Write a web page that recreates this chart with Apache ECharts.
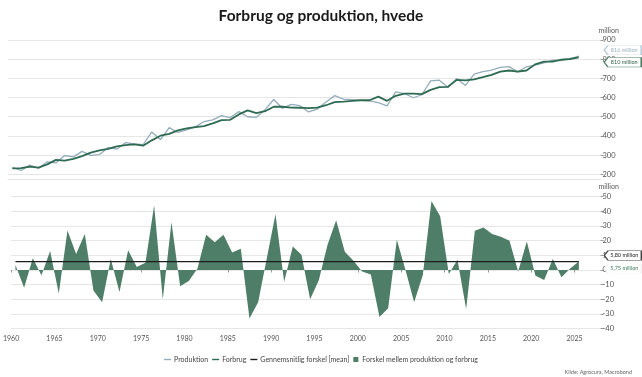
<!DOCTYPE html>
<html>
<head>
<meta charset="utf-8">
<script src="https://cdn.jsdelivr.net/npm/echarts@6/dist/echarts.min.js"></script>
<style>
html, body { margin: 0; padding: 0; background: #fff; }
#main { width: 642px; height: 377px; }
</style>
</head>
<body>
<div id="main"></div>
<script>
// høstår 1960/61 - 2025/26
var years = [1960, 1961, 1962, 1963, 1964, 1965, 1966, 1967, 1968, 1969,
    1970, 1971, 1972, 1973, 1974, 1975, 1976, 1977, 1978, 1979,
    1980, 1981, 1982, 1983, 1984, 1985, 1986, 1987, 1988, 1989,
    1990, 1991, 1992, 1993, 1994, 1995, 1996, 1997, 1998, 1999,
    2000, 2001, 2002, 2003, 2004, 2005, 2006, 2007, 2008, 2009,
    2010, 2011, 2012, 2013, 2014, 2015, 2016, 2017, 2018, 2019,
    2020, 2021, 2022, 2023, 2024, 2025];

// million ton
var produktion = [234.5, 220, 248, 231.5, 265, 259, 298, 291, 319.5, 299,
    303, 339.5, 331, 365.5, 358, 354, 421, 381, 443.5, 418,
    431.5, 447, 475, 484, 506, 496, 526.5, 500, 497, 537,
    590, 544, 564, 557.5, 525, 540, 577, 610, 591.5, 589.4,
    585, 583, 573, 557, 629.7, 621, 599, 614.6, 687, 690.6,
    653.3, 699, 663.4, 721.8, 735, 742.5, 757.7, 761, 734, 760.5,
    769.1, 780.2, 794.5, 793, 802, 815.75];

var forbrug = [231, 232, 240, 235, 252, 275, 271, 280, 295, 313,
    325, 332, 346, 352, 356, 349, 377, 401, 411, 429,
    439, 446, 451, 465, 482, 484, 512, 533, 519, 529,
    552, 552, 548, 547, 545, 547, 560, 576, 579, 583,
    586, 586, 605, 583, 609, 621, 621, 618, 640, 654,
    656, 692, 690, 695, 706, 718, 735, 741, 735, 741,
    773, 787, 787, 798, 801, 810];

var forskel = [3.5, -12, 8, -3.5, 13, -16, 27, 11, 24.5, -14,
    -22, 7.5, -15, 13.5, 2, 5, 44, -20, 32.5, -11,
    -7.5, 1, 24, 19, 24, 12, 14.5, -33, -22, 8,
    38, -8, 16, 10.5, -20, -7, 17, 34, 12.5, 6.4,
    -1, -3, -32, -26, 20.7, 0, -22, -3.4, 47, 36.6,
    -2.7, 7, -26.6, 26.8, 29, 24.5, 22.7, 20, -1, 19.5,
    -3.9, -6.8, 7.5, -5, 1, 5.75];

var gnsForskel = 5.8;

var font = 'Lato';
var gridColor = '#e6e6e6';
var tagPath = 'path://M0,5L4,0L40,0L40,10L4,10Z';
var lineIcon = 'path://M0,0H10V2H0Z';

function pairs(arr) {
    var res = [];
    for (var i = 0; i < arr.length; i++) {
        res.push([years[i] + 0.5, arr[i]]);
    }
    return res;
}

// mærkat ude til højre for sidste punkt
function tag(x, y, text, border, color, dy) {
    return {
        symbol: tagPath,
        symbolSize: [37, 9.5],
        symbolKeepAspect: false,
        silent: true,
        label: {
            show: true,
            position: 'inside',
            overflow: 'none',
            fontFamily: font,
            fontSize: 5.5,
            color: color,
            padding: [0, 0, 0, 3]
        },
        itemStyle: { color: '#fff', borderColor: border, borderWidth: 0.8 },
        data: [{ coord: [x, y], value: text, symbolOffset: [44, dy], label: { formatter: text } }]
    };
}

var lastX = years[years.length - 1] + 0.5;
var myChart = echarts.init(document.getElementById('main'));

var option = {
    backgroundColor: '#fff',
    animation: false,
    textStyle: { fontFamily: font },
    title: [{
        text: 'Forbrug og produktion, hvede',
        left: 'center',
        top: 3,
        textStyle: { fontFamily: font, fontWeight: 'bold', fontSize: 15.5, color: '#1a1a1a' }
    }, {
        text: 'Kilde: Agrocura, Macrobond',
        right: 5,
        top: 364,
        textStyle: { fontFamily: font, fontWeight: 'normal', fontSize: 5.5, color: '#666' }
    }],
    legend: {
        top: 351,
        left: 'center',
        itemWidth: 7,
        itemHeight: 5,
        itemGap: 4,
        textStyle: { fontFamily: font, fontSize: 7, color: '#444', padding: [0, 0, 0, -2] },
        data: [
            { name: 'Produktion', icon: lineIcon },
            { name: 'Forbrug', icon: lineIcon },
            { name: 'Gennemsnitlig forskel [mean]', icon: lineIcon },
            { name: 'Forskel mellem produktion og forbrug', icon: 'path://M0,0H10V10H0Z' }
        ]
    },
    grid: [
        { left: 8, right: 41.5, top: 40, height: 134.3 },
        { left: 8, right: 41.5, top: 196.7, height: 132 }
    ],
    xAxis: [{
        gridIndex: 0,
        type: 'value',
        min: 1960, max: 2028, interval: 5,
        offset: 5,
        axisLine: { show: true, lineStyle: { color: gridColor, width: 1 } },
        axisTick: { show: false },
        axisLabel: { show: false },
        splitLine: { show: false }
    }, {
        gridIndex: 1,
        type: 'value',
        min: 1960, max: 2028, interval: 5,
        offset: 3,
        axisLine: { show: false },
        axisTick: { show: true, length: 2.5, lineStyle: { color: '#999' } },
        axisLabel: {
            fontFamily: font, fontSize: 7, color: '#555', margin: 4,
            showMaxLabel: false,
            formatter: function(v) { return v; }
        },
        splitLine: { show: false }
    }],
    yAxis: [{
        gridIndex: 0,
        type: 'value',
        position: 'right',
        min: 200, max: 900, interval: 100,
        name: 'million',
        nameGap: 6,
        nameTextStyle: { fontFamily: font, fontSize: 7, color: '#555', align: 'left', padding: [0, 0, 0, -2] },
        axisLine: { show: false },
        axisTick: { show: true, length: 3, lineStyle: { color: '#999' } },
        axisLabel: { fontFamily: font, fontSize: 7.5, color: '#555', margin: 2 },
        splitLine: { lineStyle: { color: gridColor, width: 1.2 } }
    }, {
        gridIndex: 1,
        type: 'value',
        position: 'right',
        min: -40, max: 50, interval: 10,
        name: 'million',
        nameGap: 6,
        nameTextStyle: { fontFamily: font, fontSize: 7, color: '#555', align: 'left', padding: [0, 0, 0, -2] },
        axisLine: { show: false },
        axisTick: { show: true, length: 3, lineStyle: { color: '#999' } },
        axisLabel: { fontFamily: font, fontSize: 7.5, color: '#555', margin: 2 },
        splitLine: { lineStyle: { color: gridColor, width: 1.2 } }
    }],
    series: [{
        name: 'Produktion',
        type: 'line',
        xAxisIndex: 0, yAxisIndex: 0,
        showSymbol: false, symbol: 'none',
        clip: false,
        z: 3,
        color: '#94adbc',
        lineStyle: { color: '#94adbc', width: 1.3 },
        data: pairs(produktion),
        markPoint: tag(lastX, produktion[produktion.length - 1], '816 million', '#b9cbd5', '#9ab1bf', -6)
    }, {
        name: 'Forbrug',
        type: 'line',
        xAxisIndex: 0, yAxisIndex: 0,
        showSymbol: false, symbol: 'none',
        clip: false,
        z: 4,
        color: '#2f6a52',
        lineStyle: { color: '#2f6a52', width: 1.8 },
        data: pairs(forbrug),
        markPoint: tag(lastX, forbrug[forbrug.length - 1], '810 million', '#4e7d68', '#2f5f4a', 5)
    }, {
        name: 'Gennemsnitlig forskel [mean]',
        type: 'line',
        xAxisIndex: 1, yAxisIndex: 1,
        showSymbol: false, symbol: 'none',
        clip: false,
        z: 5,
        color: '#1e1e1e',
        lineStyle: { color: '#1e1e1e', width: 1.3 },
        data: [[years[0] + 0.5, gnsForskel], [lastX, gnsForskel]],
        markPoint: tag(lastX, gnsForskel, '5,80 million', '#444', '#222', -6)
    }, {
        name: 'Forskel mellem produktion og forbrug',
        type: 'line',
        xAxisIndex: 1, yAxisIndex: 1,
        showSymbol: false, symbol: 'none',
        clip: false,
        z: 2,
        color: '#4e7d68',
        lineStyle: { width: 0 },
        areaStyle: { color: '#4e7d68', opacity: 1 },
        data: pairs(forskel),
        markPoint: tag(lastX, forskel[forskel.length - 1], '5,75 million', '#f2f2f2', '#3f7a60', 7)
    }]
};

myChart.setOption(option);
</script>
</body>
</html>
